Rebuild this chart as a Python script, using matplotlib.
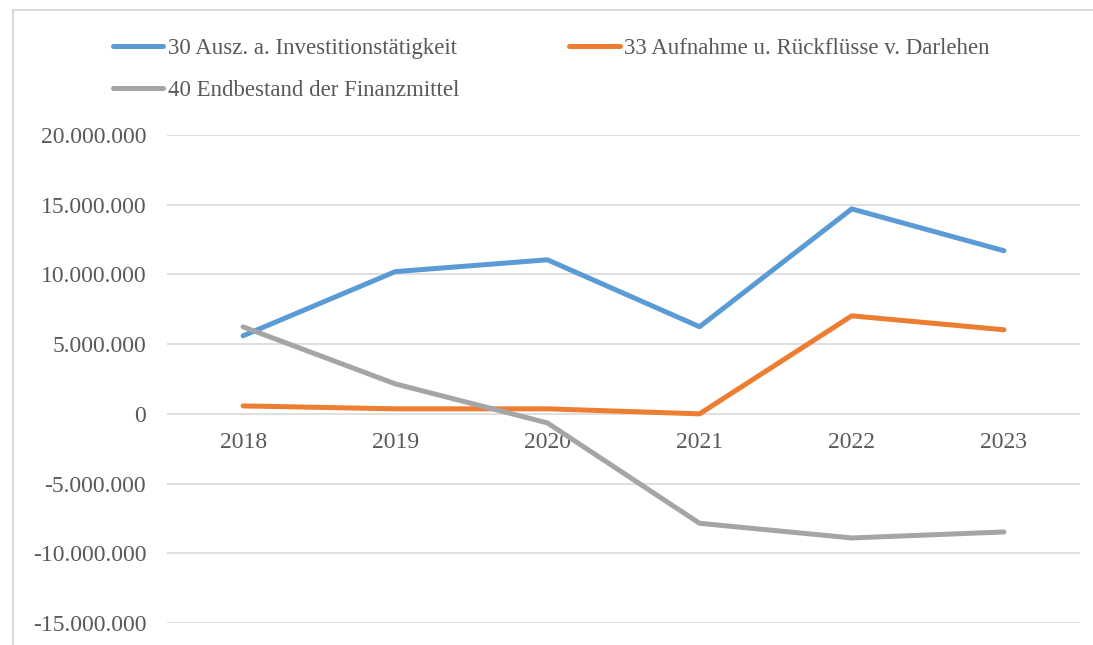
import matplotlib
matplotlib.use("Agg")
import matplotlib.pyplot as plt
from matplotlib.ticker import FuncFormatter, MultipleLocator
from matplotlib.patches import Rectangle

years = ["2018", "2019", "2020", "2021", "2022", "2023"]
invest = [5600000, 10200000, 11050000, 6250000, 14700000, 11700000]
darlehen = [570000, 360000, 360000, 0, 7030000, 6030000]
endbestand = [6240000, 2150000, -650000, -7850000, -8900000, -8470000]

names = ["30 Ausz. a. Investitionstätigkeit",
         "33 Aufnahme u. Rückflüsse v. Darlehen",
         "40 Endbestand der Finanzmittel"]
colors = ["#5B9BD5", "#ED7D31", "#A5A5A5"]

plt.rcParams["font.family"] = ["Liberation Serif", "DejaVu Serif"]
txt = "#595959"
fs = 16.5

fig = plt.figure(figsize=(10.93, 6.45), dpi=100)
ax = fig.add_axes([167 / 1093, 22 / 645, (1080 - 167) / 1093, 488 / 645])

x = range(len(years))
lines = []
for vals, c, n in zip([invest, darlehen, endbestand], colors, names):
    l, = ax.plot(x, vals, color=c, lw=3.6, solid_capstyle="round", label=n)
    lines.append(l)

ax.set_xlim(-0.5, len(years) - 0.5)
ax.set_ylim(-15000000, 20000000)
ax.yaxis.set_major_locator(MultipleLocator(5000000))
ax.yaxis.set_major_formatter(FuncFormatter(lambda v, p: f"{int(v):,}".replace(",", ".")))
ax.grid(axis="y", color="#D9D9D9", lw=1.2)
ax.set_axisbelow(True)
for s in ax.spines.values():
    s.set_visible(False)
ax.spines["bottom"].set_position(("data", 0))
ax.set_xticks(list(x))
ax.set_xticklabels(years)
ax.tick_params(axis="both", length=0, labelsize=17, labelcolor=txt)
ax.tick_params(axis="y", pad=15)
ax.tick_params(axis="x", pad=13)

# legend: two columns, order blue/orange in row one, gray in row two
fig.legend([lines[0], lines[2], lines[1]], [names[0], names[2], names[1]],
           ncol=2, loc="upper left", bbox_to_anchor=(113 / 1093, 1 - 38 / 645),
           frameon=False, fontsize=fs, labelcolor=txt, handlelength=2.2,
           handletextpad=0.2, columnspacing=4.8, labelspacing=0.92,
           borderpad=0, borderaxespad=0)

fig.patches.append(Rectangle((13 / 1093, -0.1), 1.2, 1 - 10 / 645 + 0.1,
                             transform=fig.transFigure, fill=False,
                             edgecolor="#D9D9D9", lw=1.5))

fig.savefig("out.png", dpi=100)
